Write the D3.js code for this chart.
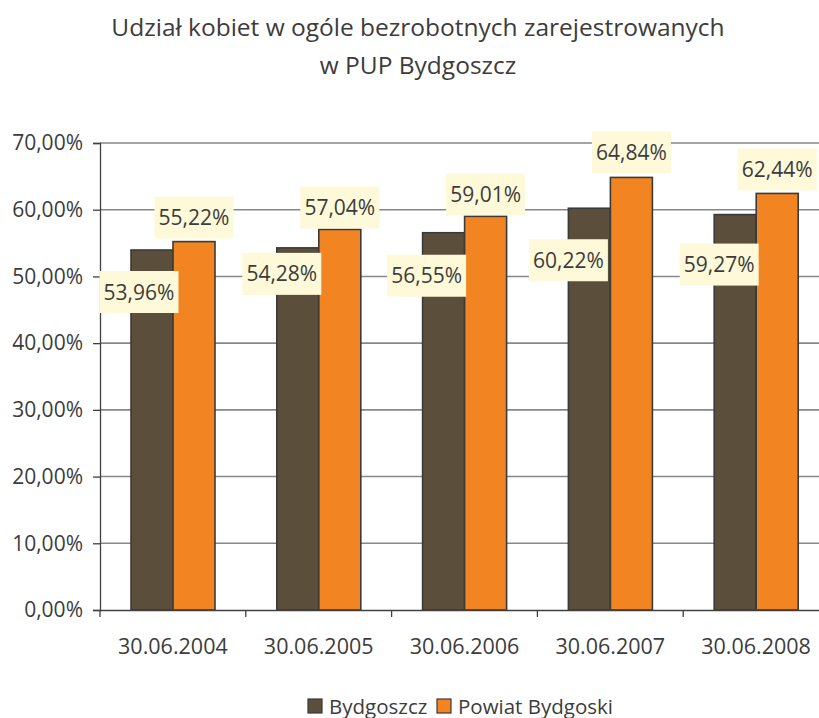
<!DOCTYPE html>
<html>
<head>
<meta charset="utf-8">
<script src="https://cdn.jsdelivr.net/npm/d3@7"></script>
<style>
	body { margin: 0; background: #fff; }
	text { font-family: "Open Sans", sans-serif; fill: #3c3c3c; }
</style>
</head>
<body>
<svg id="svg" width="819" height="718"></svg>
<script>

// data
var categories = ["30.06.2004", "30.06.2005", "30.06.2006", "30.06.2007", "30.06.2008"];
var seriesNames = ["Bydgoszcz", "Powiat Bydgoski"];
var bydgoszcz = [53.96, 54.28, 56.55, 60.22, 59.27];
var powiat = [55.22, 57.04, 59.01, 64.84, 62.44];
var yTicks = [0, 10, 20, 30, 40, 50, 60, 70];
var titleLines = ["Udział kobiet w ogóle bezrobotnych zarejestrowanych", "w PUP Bydgoszcz"];

var colors = ["#5b4f3c", "#f28522"];

var svg = d3.select("svg"),
	width = +svg.attr("width"),
	height = +svg.attr("height");

var x0 = d3.scaleBand().domain(categories).range([100, 829]).padding(0);
var x1 = d3.scaleBand().domain(seriesNames).range([31, 115]).padding(0);
var y = d3.scaleLinear().domain([0, 70]).range([610, 143]);

var fmt = function (v) { return v.toFixed(2).replace(".", ",") + "%"; };

// title
svg.append("g")
	.selectAll("text")
	.data(titleLines)
	.enter().append("text")
	.attr("x", 418)
	.attr("y", function (d, i) { return 36 + i * 38; })
	.attr("text-anchor", "middle")
	.style("font-size", "24.5px")
	.text(function (d) { return d; });

// gridlines
svg.append("g")
	.selectAll("line")
	.data(yTicks.slice(1))
	.enter().append("line")
	.attr("x1", 100).attr("x2", width)
	.attr("y1", function (d) { return y(d); })
	.attr("y2", function (d) { return y(d); })
	.style("stroke", "#878787")
	.style("stroke-width", "1.6px");

// y axis
var yAxis = svg.append("g")
	.attr("transform", "translate(100,0)")
	.call(d3.axisLeft(y).tickValues(yTicks).tickSize(7).tickPadding(10)
		.tickFormat(function (d) { return d.toFixed(2).replace(".", ",") + "%"; }));
yAxis.select(".domain").style("stroke", "#404040").style("stroke-width", "1.3px");
yAxis.selectAll(".tick line").style("stroke", "#404040").style("stroke-width", "1.3px");
yAxis.selectAll("text")
	.style("font-family", "'Open Sans', sans-serif")
	.style("font-size", "21px")
	.style("fill", "#3c3c3c");

// bars
var rows = categories.map(function (c, i) {
	return { cat: c, values: [bydgoszcz[i], powiat[i]] };
});

var groups = svg.append("g")
	.selectAll("g")
	.data(rows)
	.enter().append("g")
	.attr("transform", function (d) { return "translate(" + x0(d.cat) + ",0)"; });

groups.selectAll("rect")
	.data(function (d) { return d.values.map(function (v, j) { return { name: seriesNames[j], v: v, j: j }; }); })
	.enter().append("rect")
	.attr("x", function (d) { return x1(d.name); })
	.attr("width", x1.bandwidth())
	.attr("y", function (d) { return y(d.v); })
	.attr("height", function (d) { return y(0) - y(d.v); })
	.style("fill", function (d) { return colors[d.j]; })
	.style("stroke", "#3a3a3a")
	.style("stroke-width", "1.6px");

// x axis
var xAxis = svg.append("g")
	.attr("transform", "translate(0,610)")
	.call(d3.axisBottom(x0).tickSize(0).tickPadding(29));
xAxis.select(".domain").style("stroke", "#404040").style("stroke-width", "1.3px");
xAxis.selectAll("text")
	.style("font-family", "'Open Sans', sans-serif")
	.style("font-size", "21.5px")
	.style("fill", "#3c3c3c");

svg.append("g")
	.selectAll("line")
	.data(categories)
	.enter().append("line")
	.attr("x1", function (d) { return x0(d); })
	.attr("x2", function (d) { return x0(d); })
	.attr("y1", 610).attr("y2", 617)
	.style("stroke", "#404040")
	.style("stroke-width", "1.3px");

// data labels (boxes placed as in the original)
var labelShift = [
	[[-13, 42], [0, -24]],
	[[-16, 26], [0, -22]],
	[[-17, 43], [0, -22]],
	[[-21, 52], [0, -25]],
	[[-16, 50], [0, -24]]
];

var labels = groups.selectAll("g.lbl")
	.data(function (d, i) { return d.values.map(function (v, j) { return { name: seriesNames[j], v: v, sh: labelShift[i][j] }; }); })
	.enter().append("g")
	.attr("class", "lbl")
	.attr("transform", function (d) {
		return "translate(" + (x1(d.name) + x1.bandwidth() / 2 + d.sh[0]) + "," + (y(d.v) + d.sh[1]) + ")";
	});

labels.append("rect")
	.attr("x", -39.5).attr("y", -21)
	.attr("width", 79).attr("height", 42)
	.style("fill", "#fef9d8");

labels.append("text")
	.attr("text-anchor", "middle")
	.attr("dy", "0.36em")
	.style("font-size", "21px")
	.text(function (d) { return fmt(d.v); });

// legend
var legend = svg.append("g")
	.selectAll("g")
	.data(seriesNames)
	.enter().append("g")
	.attr("transform", function (d, i) { return "translate(" + (i == 0 ? 308 : 437) + ",699)"; });

legend.append("rect")
	.attr("width", 14).attr("height", 14)
	.style("fill", function (d, i) { return colors[i]; })
	.style("stroke", "#3a3a3a")
	.style("stroke-width", "1.2px");

legend.append("text")
	.attr("x", 21).attr("y", 14.5)
	.style("font-size", "20.5px")
	.text(function (d) { return d; });

</script>
</body>
</html>
